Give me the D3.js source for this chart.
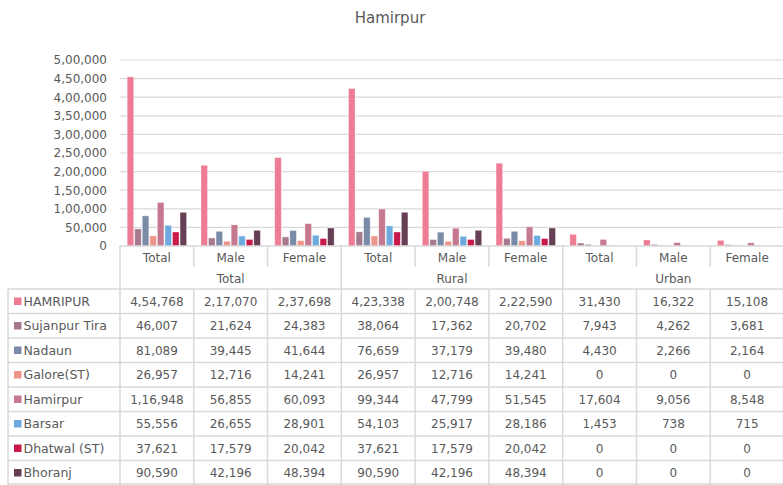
<!DOCTYPE html>
<html><head><meta charset="utf-8">
<script src="https://cdn.jsdelivr.net/npm/d3@7"></script>
<style>
html,body{margin:0;padding:0;background:#fff;}
svg{display:block;font-family:"DejaVu Sans",sans-serif;}
</style></head>
<body>
<svg id="c" width="783" height="485"></svg>
<script>
const title = "Hamirpur";
const categories = ["Total","Male","Female","Total","Male","Female","Total","Male","Female"];
const groups = ["Total","Rural","Urban"];
const seriesNames = ["HAMRIPUR","Sujanpur Tira","Nadaun","Galore(ST)","Hamirpur","Barsar","Dhatwal (ST)","Bhoranj"];
const seriesColors = ["#EF7C95","#A7798F","#798BA7","#EE9489","#C6788F","#6DAADF","#C9184A","#673F55"];
const hamripur   = [454768,217070,237698,423338,200748,222590,31430,16322,15108];
const sujanpur   = [46007,21624,24383,38064,17362,20702,7943,4262,3681];
const nadaun     = [81089,39445,41644,76659,37179,39480,4430,2266,2164];
const galore     = [26957,12716,14241,26957,12716,14241,0,0,0];
const hamirpur   = [116948,56855,60093,99344,47799,51545,17604,9056,8548];
const barsar     = [55556,26655,28901,54103,25917,28186,1453,738,715];
const dhatwal    = [37621,17579,20042,37621,17579,20042,0,0,0];
const bhoranj    = [90590,42196,48394,90590,42196,48394,0,0,0];
const yTicks = [0,50000,100000,150000,200000,250000,300000,350000,400000,450000,500000];

const seriesValues = [hamripur,sujanpur,nadaun,galore,hamirpur,barsar,dhatwal,bhoranj];

function indian(n){
  const s = String(Math.round(n));
  if (s.length <= 3) return s;
  const last3 = s.slice(-3);
  let rest = s.slice(0,-3);
  const parts = [];
  while (rest.length > 2){ parts.unshift(rest.slice(-2)); rest = rest.slice(0,-2); }
  if (rest.length) parts.unshift(rest);
  return parts.join(",") + "," + last3;
}

const svg = d3.select("#c");
const textCol = "#595959";
const lineCol = "#D9D9D9";
const plotL = 120, plotR = 784, plotT = 60, plotB = 246;

const x0 = d3.scaleBand().domain(d3.range(categories.length)).range([plotL, plotR]).padding(0);
const x1 = d3.scaleBand().domain(d3.range(seriesNames.length)).range([0, x0.bandwidth()]).paddingInner(0.13).paddingOuter(0.95);
const y = d3.scaleLinear().domain([0, 500000]).range([plotB, plotT]);

// title
svg.append("text").attr("x", 390).attr("y", 23).attr("text-anchor","middle")
  .attr("font-size", 15).attr("fill", textCol).text(title);

// gridlines
svg.append("g").selectAll("line").data(yTicks.filter(d=>d>0)).join("line")
  .attr("x1", plotL).attr("x2", plotR).attr("y1", d=>y(d)).attr("y2", d=>y(d))
  .attr("stroke", lineCol).attr("stroke-width", 1.2);

// y axis labels
const yAxis = d3.axisLeft(y).tickValues(yTicks).tickFormat(indian).tickSize(0).tickPadding(0);
const yg = svg.append("g").attr("transform", `translate(107,0)`).call(yAxis);
yg.select(".domain").remove();
yg.selectAll("text").attr("font-size", 12).attr("fill", textCol).attr("font-family","DejaVu Sans");

// bars
const barG = svg.append("g");
categories.forEach((c, ci) => {
  const g = barG.append("g").attr("transform", `translate(${x0(ci)},0)`);
  g.selectAll("rect").data(seriesValues.map((arr, si) => ({si, v: arr[ci]}))).join("rect")
    .attr("x", d => x1(d.si)).attr("width", x1.bandwidth())
    .attr("y", d => y(d.v)).attr("height", d => plotB - y(d.v))
    .attr("fill", d => seriesColors[d.si])
    .attr("stroke", "#fff").attr("stroke-opacity", 0.45).attr("stroke-width", 0.8);
});

// axis line
svg.append("line").attr("x1", plotL).attr("x2", plotR).attr("y1", plotB).attr("y2", plotB)
  .attr("stroke", lineCol).attr("stroke-width", 1.5);

// header: category labels
const hdr1 = 262, hdr2 = 283;
const tableTop = 289, rowH = 24.5;
svg.append("g").selectAll("text").data(categories).join("text")
  .attr("x", (d,i) => x0(i) + x0.bandwidth()/2).attr("y", hdr1)
  .attr("text-anchor","middle").attr("font-size", 12).attr("fill", textCol).text(d=>d);
svg.append("g").selectAll("text").data(groups).join("text")
  .attr("x", (d,i) => x0(i*3) + x0.bandwidth()*1.5).attr("y", hdr2)
  .attr("text-anchor","middle").attr("font-size", 12).attr("fill", textCol).text(d=>d);

// header vertical lines
const vlines = svg.append("g").attr("stroke", lineCol).attr("stroke-width", 1.5);
d3.range(categories.length + 1).forEach(i => {
  const xx = i === categories.length ? plotR - 0.5 : x0(i);
  const isGroup = i % 3 === 0;
  vlines.append("line").attr("x1", xx).attr("x2", xx).attr("y1", plotB)
    .attr("y2", isGroup ? tableTop : 267);
});

// table
const tableBottom = tableTop + rowH * seriesNames.length;
const tl = svg.append("g").attr("stroke", lineCol).attr("stroke-width", 1.5);
d3.range(seriesNames.length + 1).forEach(r => {
  const yy = tableTop + r*rowH - (r === seriesNames.length ? 1 : 0);
  tl.append("line").attr("x1", 8).attr("x2", plotR).attr("y1", yy).attr("y2", yy);
});
tl.append("line").attr("x1", 8).attr("x2", 8).attr("y1", tableTop).attr("y2", tableBottom);
d3.range(categories.length + 1).forEach(i => {
  const xx = i === categories.length ? plotR - 0.5 : x0(i);
  tl.append("line").attr("x1", xx).attr("x2", xx).attr("y1", tableTop).attr("y2", tableBottom);
});

// legend keys + labels
const rows = svg.append("g");
seriesNames.forEach((name, si) => {
  const ty = tableTop + si*rowH;
  rows.append("rect").attr("x", 14).attr("y", ty + 8.5).attr("width", 7.5).attr("height", 7.5)
    .attr("fill", seriesColors[si]);
  rows.append("text").attr("x", 23.5).attr("y", ty + 16.8).attr("font-size", 12.5)
    .attr("fill", textCol).text(name);
  rows.append("g").selectAll("text").data(seriesValues[si]).join("text")
    .attr("x", (d,i) => x0(i) + x0.bandwidth()/2).attr("y", ty + 16.8)
    .attr("text-anchor","middle").attr("font-size", 12).attr("fill", textCol)
    .text(d => indian(d));
});
</script>
</body></html>
